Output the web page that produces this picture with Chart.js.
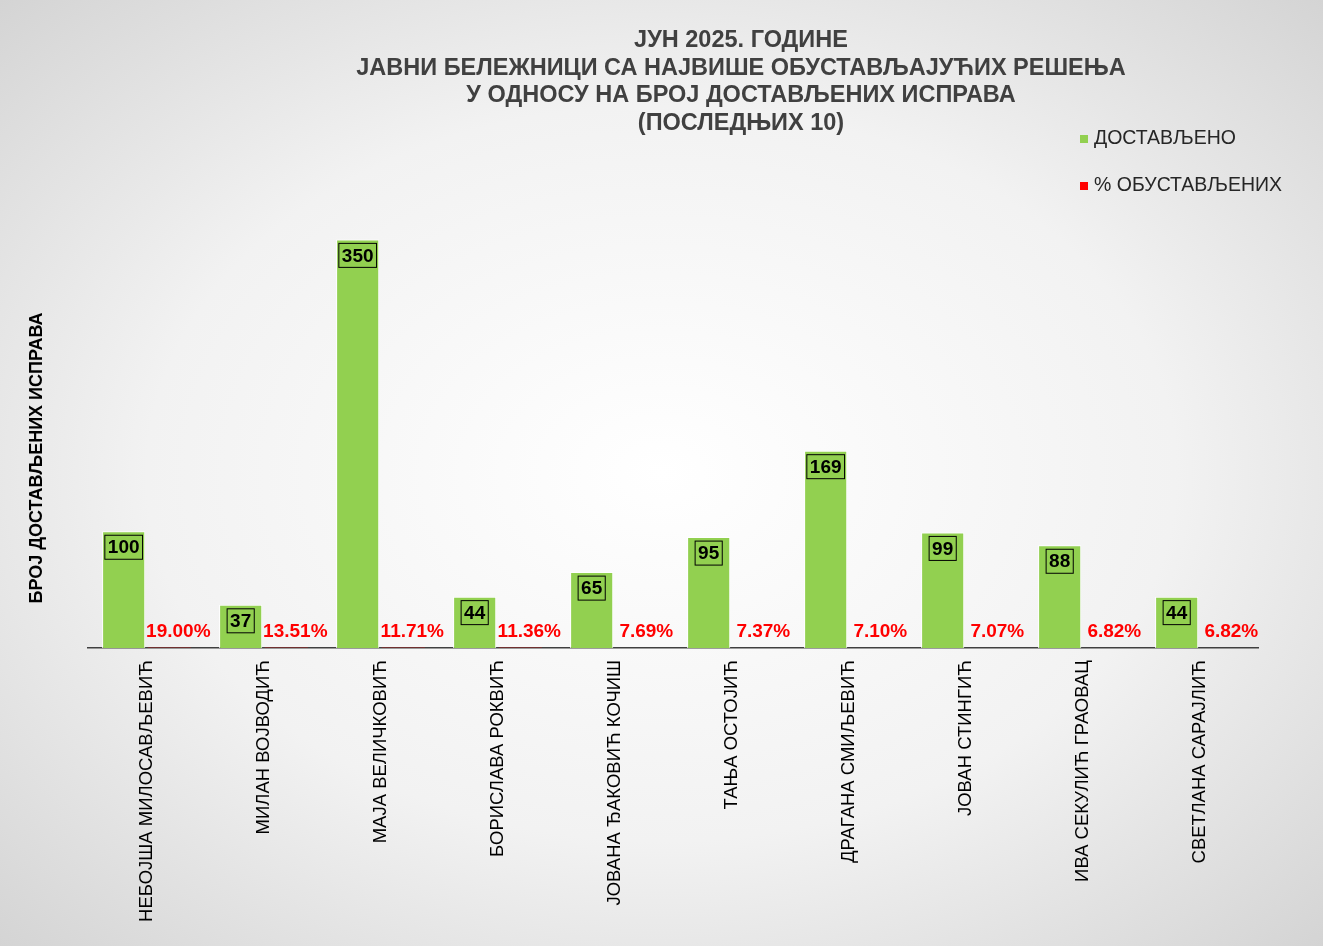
<!DOCTYPE html>
<html><head><meta charset="utf-8">
<script src="https://cdn.jsdelivr.net/npm/chart.js@4/dist/chart.umd.min.js"></script>
<style>
html,body{margin:0;padding:0;}
body{width:1323px;height:946px;background:radial-gradient(ellipse at center,#ffffff 0%,#f2f2f2 55%,#d4d4d4 100%);}
#c{display:block;}
</style></head><body>
<canvas id="c" width="1323" height="946"></canvas>
<script>
const categories=["НЕБОЈША МИЛОСАВЉЕВИЋ","МИЛАН ВОЈВОДИЋ","МАЈА ВЕЛИЧКОВИЋ","БОРИСЛАВА РОКВИЋ","ЈОВАНА ЂАКОВИЋ КОЧИШ","ТАЊА ОСТОЈИЋ","ДРАГАНА СМИЉЕВИЋ","ЈОВАН СТИНГИЋ","ИВА СЕКУЛИЋ ГРАОВАЦ","СВЕТЛАНА САРАЈЛИЋ"];
const delivered=[100,37,350,44,65,95,169,99,88,44];
const suspendedPct=[19.00,13.51,11.71,11.36,7.69,7.37,7.10,7.07,6.82,6.82];
const titleLines=["ЈУН 2025. ГОДИНЕ","ЈАВНИ БЕЛЕЖНИЦИ СА НАЈВИШЕ ОБУСТАВЉАЈУЋИХ РЕШЕЊА","У ОДНОСУ НА БРОЈ ДОСТАВЉЕНИХ ИСПРАВА","(ПОСЛЕДЊИХ 10)"];
const seriesNames=["ДОСТАВЉЕНО","% ОБУСТАВЉЕНИХ"];
const yTitle="БРОЈ ДОСТАВЉЕНИХ ИСПРАВА";

const deco={id:'deco',afterDatasetsDraw(ch){
  const c=ch.ctx;c.save();
  c.fillStyle='#404040';c.font='bold 23.5px Arial, "Liberation Sans"';c.textAlign='center';c.textBaseline='middle';
  titleLines.forEach((t,i)=>c.fillText(t,741,41+i*27.5));
  c.font='19.5px Arial, "Liberation Sans"';c.textAlign='left';
  c.fillStyle='#92D050';c.fillRect(1080,135,8,8);
  c.fillStyle='#FF0000';c.fillRect(1080,182,8,8);
  c.fillStyle='#262626';
  c.fillText(seriesNames[0],1094,139);c.fillText(seriesNames[1],1094,186);
  c.save();c.translate(37,458);c.rotate(-Math.PI/2);c.font='bold 18px Arial, "Liberation Sans"';c.fillStyle='#000';c.textAlign='center';c.fillText(yTitle,0,0);c.restore();
  const m0=ch.getDatasetMeta(0),m1=ch.getDatasetMeta(1);
  c.font='bold 19px Arial, "Liberation Sans"';c.textAlign='center';
  m0.data.forEach((b,i)=>{const t=String(delivered[i]);const w=c.measureText(t).width+6;const y=b.y+16;
    c.fillStyle='#92D050';c.fillRect(b.x-w/2,y-12,w,24);c.strokeStyle='#000';c.lineWidth=1;c.strokeRect(b.x-w/2,y-12,w,24);
    c.fillStyle='#000';c.fillText(t,b.x,y+1);});
  c.fillStyle='#FF0000';
  m1.data.forEach((b,i)=>{c.fillText(suspendedPct[i].toFixed(2)+'%',b.x+9,632);});
  c.restore();
}};

new Chart(document.getElementById('c'),{type:'bar',
 data:{labels:categories,datasets:[
  {label:seriesNames[0],data:delivered,backgroundColor:'#92D050',borderColor:'#ffffff',borderWidth:{top:1,left:1,right:1,bottom:0},categoryPercentage:0.78,barPercentage:0.945},
  {label:seriesNames[1],data:suspendedPct.map(v=>v/100),backgroundColor:'#FF0000',categoryPercentage:0.78,barPercentage:0.945}]},
 options:{responsive:false,animation:false,devicePixelRatio:1,
  layout:{padding:{top:181,right:65,left:0,bottom:0}},
  plugins:{legend:{display:false},tooltip:{enabled:false}},
  scales:{
   y:{min:0,max:400,ticks:{display:false},grid:{display:false},border:{display:false},afterFit:s=>{s.width=88;}},
   x:{grid:{display:false},border:{color:'#404040',width:1.5},afterFit:s=>{s.height=298;},
      ticks:{color:'#000',font:{size:18.5,family:'Arial, "Liberation Sans"'},minRotation:90,maxRotation:90,padding:4}}
  }},
 plugins:[deco]});
</script></body></html>
